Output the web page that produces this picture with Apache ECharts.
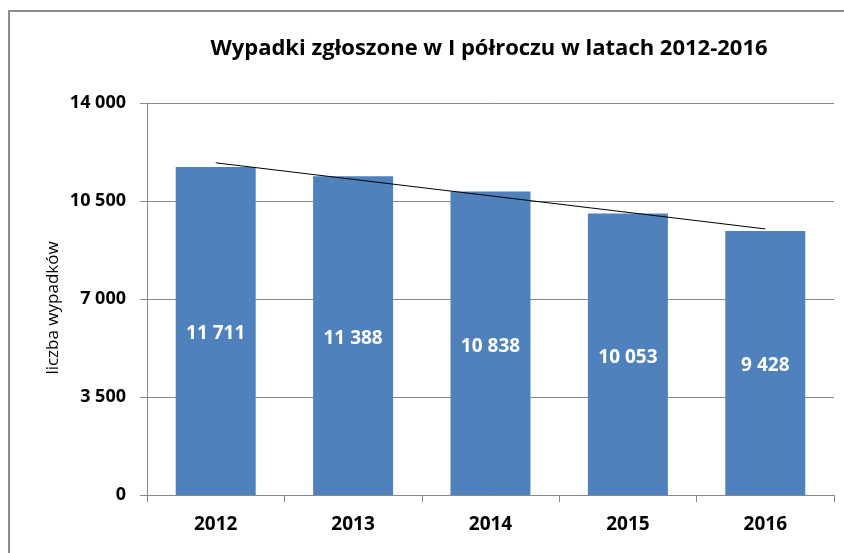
<!DOCTYPE html>
<html>
<head>
<meta charset="utf-8">
<script src="https://cdn.jsdelivr.net/npm/echarts@6/dist/echarts.min.js"></script>
<style>
	html, body { margin: 0; padding: 0; background: #fff; }
	#chart { width: 844px; height: 553px; }
</style>
</head>
<body>
<div id="chart"></div>
<script>
const years = ['2012', '2013', '2014', '2015', '2016'];
const accidents = [11711, 11388, 10838, 10053, 9428];
// trend line ends
const trend = [11864, null, null, null, 9503];
const yTicks = [0, 3500, 7000, 10500, 14000];

const fmt = (v) => String(v).replace(/\B(?=(\d{3})+(?!\d))/g, ' ');
const font = 'Open Sans';

const chart = echarts.init(document.getElementById('chart'));
chart.setOption({
	backgroundColor: '#fff',
	animation: false,
	title: {
		text: 'Wypadki zgłoszone w I półroczu w latach 2012-2016',
		left: 484,
		top: 33,
		textAlign: 'center',
		textStyle: { fontFamily: font, fontSize: 22, fontWeight: 'bold', color: '#000' }
	},
	graphic: [{
		type: 'polyline',
		shape: { points: [[9, 553], [9, 11], [844, 11]] },
		style: { stroke: '#8c8c8c', lineWidth: 2, fill: null }
	}, {
		type: 'text',
		x: 53,
		y: 308,
		rotation: Math.PI / 2,
		style: {
			text: 'liczba wypadków',
			fontFamily: font,
			fontSize: 17,
			fill: '#000',
			align: 'center',
			verticalAlign: 'middle'
		}
	}],
	grid: { left: 147, right: 10, top: 103, bottom: 58 },
	xAxis: {
		type: 'category',
		data: years,
		axisLine: { lineStyle: { color: '#888' } },
		axisTick: { show: true, length: 7, lineStyle: { color: '#888' } },
		axisLabel: { margin: 20, fontFamily: font, fontSize: 19, fontWeight: 'bold', color: '#000' }
	},
	yAxis: {
		type: 'value',
		min: yTicks[0],
		max: yTicks[yTicks.length - 1],
		interval: 3500,
		axisLine: { show: true, lineStyle: { color: '#888' } },
		axisTick: { show: true, length: 7, lineStyle: { color: '#888' } },
		splitLine: { lineStyle: { color: '#888' } },
		axisLabel: { margin: 21, fontFamily: font, fontSize: 18, fontWeight: 'bold', color: '#000', formatter: fmt }
	},
	series: [{
		type: 'bar',
		data: accidents,
		barWidth: 80,
		itemStyle: { color: '#4F81BD' },
		label: {
			show: true,
			position: 'inside',
			offset: [0, 3],
			color: '#fff',
			fontFamily: font,
			fontSize: 19,
			fontWeight: 'bold',
			formatter: (p) => fmt(p.value)
		}
	}, {
		type: 'line',
		data: trend,
		connectNulls: true,
		symbol: 'none',
		lineStyle: { color: '#000', width: 1 }
	}]
});
</script>
</body>
</html>
